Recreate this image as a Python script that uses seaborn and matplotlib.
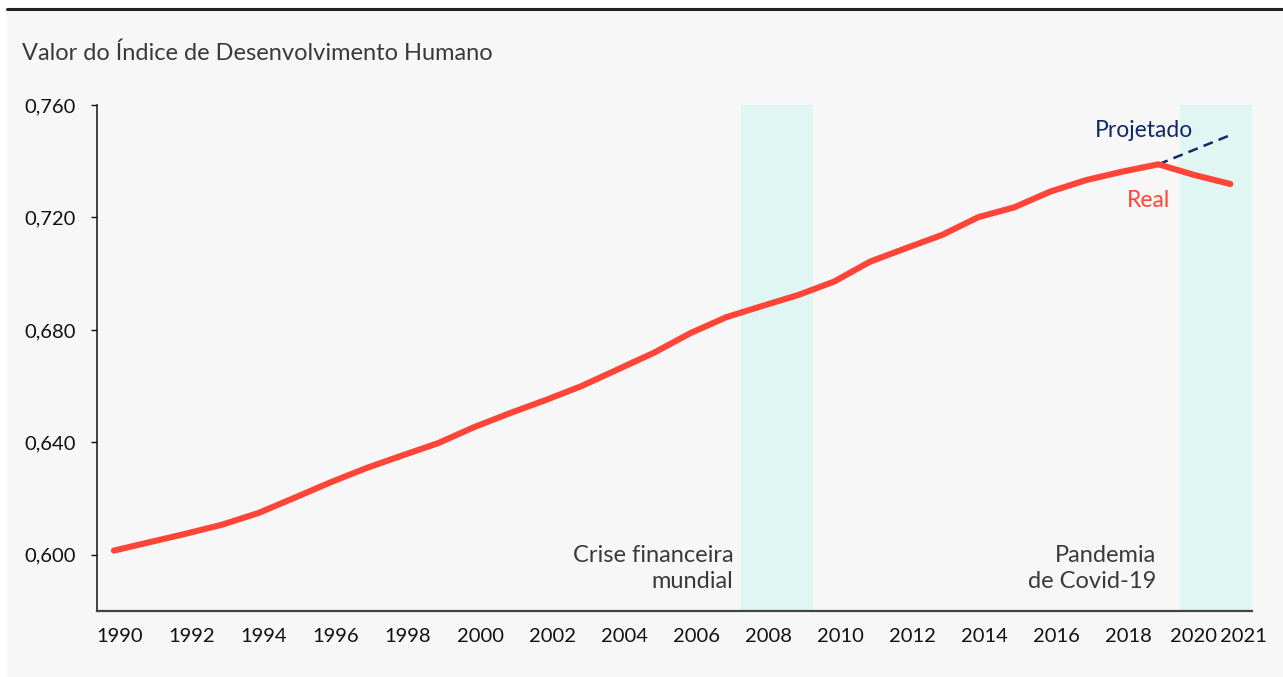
import numpy as np
import pandas as pd
import matplotlib
matplotlib.use("Agg")
import matplotlib.pyplot as plt
import matplotlib.transforms as mtransforms
from matplotlib.patches import Rectangle
import seaborn as sns

# dados
anos = list(range(1990, 2022))
idh_real = [0.6015, 0.6045, 0.6075, 0.6107, 0.6148, 0.6202, 0.6257, 0.6308,
            0.6353, 0.6397, 0.6454, 0.6504, 0.6551, 0.6601, 0.6660, 0.6719,
            0.6788, 0.6845, 0.6885, 0.6924, 0.6972, 0.7043, 0.7091, 0.7138,
            0.7201, 0.7236, 0.7292, 0.7333, 0.7363, 0.7389, 0.7351, 0.7319]
anos_proj = [2019, 2021]
idh_proj = [0.7389, 0.7493]
crise = (2007.4, 2009.4)
pandemia = (2019.6, 2021.6)
ticks_x = list(range(1990, 2021, 2)) + [2021]
ticks_y = [0.600, 0.640, 0.680, 0.720, 0.760]

df = pd.DataFrame({'Ano': anos, 'IDH': idh_real})
df_proj = pd.DataFrame({'Ano': anos_proj, 'IDH': idh_proj})

vermelho = '#ff4438'
azul = '#0f2a6b'
verde = '#dff6f2'
cinza_txt = '#3a3a3a'

sns.set_theme(style='ticks')
plt.rcParams['font.family'] = ['Lato', 'DejaVu Sans']

fig = plt.figure(figsize=(12.83, 6.77), dpi=100)
fig.patch.set_facecolor('white')
# fundo cinza e linha preta no topo
fig.patches.append(Rectangle((7 / 1283, 0), 1, 1 - 10 / 677, transform=fig.transFigure,
                             facecolor='#f7f7f7', edgecolor='none', zorder=-10))
fig.lines.append(plt.Line2D([7 / 1283, 1], [1 - 9 / 677, 1 - 9 / 677], transform=fig.transFigure,
                            color='#222222', lw=2.2))

ax = fig.add_axes([97 / 1283, 1 - 611 / 677, (1252 - 97) / 1283, (611 - 105) / 677])
ax.set_facecolor('none')

ax.axvspan(*crise, color=verde, lw=0, zorder=0)
ax.axvspan(*pandemia, color=verde, lw=0, zorder=0)

sns.lineplot(data=df, x='Ano', y='IDH', ax=ax, color=vermelho, lw=4.4,
             solid_capstyle='round', zorder=3)
sns.lineplot(data=df_proj, x='Ano', y='IDH', ax=ax, color=azul, lw=1.8,
             linestyle=(0, (4, 2.5)), zorder=2)

ax.set_xlim(1989.53, pandemia[1])
ax.set_ylim(0.58, 0.76)
ax.set_xticks(ticks_x)
ax.set_xticklabels([str(a) for a in ticks_x])
ax.set_yticks(ticks_y)
ax.set_yticklabels([f'{v:.3f}'.replace('.', ',') for v in ticks_y])
ax.set_xlabel('')
ax.set_ylabel('')
ax.tick_params(axis='x', length=0, pad=12, labelsize=14.5, colors='#111111')
ax.tick_params(axis='y', length=4, width=1, pad=11, labelsize=14.5, colors='#111111')

# pequeno deslocamento dos rótulos do eixo x, como no original
for lab, a in zip(ax.get_xticklabels(), ticks_x):
    dx = 6
    if a == 2020:
        dx = -1
    elif a == 2021:
        dx = 13
    lab.set_transform(lab.get_transform() + mtransforms.ScaledTranslation(dx / 100, 0, fig.dpi_scale_trans))

sns.despine(ax=ax)
ax.spines['left'].set_color('#111111')
ax.spines['left'].set_linewidth(1.1)
ax.spines['bottom'].set_color('#444444')
ax.spines['bottom'].set_linewidth(1.6)

fig.text(22 / 1283, 1 - 53 / 677, 'Valor do Índice de Desenvolvimento Humano',
         fontsize=17, color=cinza_txt, va='center', ha='left')

ax.text(crise[0] - 0.2, 0.595, 'Crise financeira\nmundial', ha='right', va='center',
        fontsize=17, color=cinza_txt, linespacing=1.3)
ax.text(pandemia[0] - 0.65, 0.595, 'Pandemia\nde Covid-19', ha='right', va='center',
        fontsize=17, color=cinza_txt, linespacing=1.3)
ax.text(2018.6, 0.7511, 'Projetado', ha='center', va='center', fontsize=16.5, color=azul)
ax.text(2018.73, 0.7259, 'Real', ha='center', va='center', fontsize=16.5, color=vermelho)

fig.savefig('out.png', dpi=100, facecolor=fig.get_facecolor())
